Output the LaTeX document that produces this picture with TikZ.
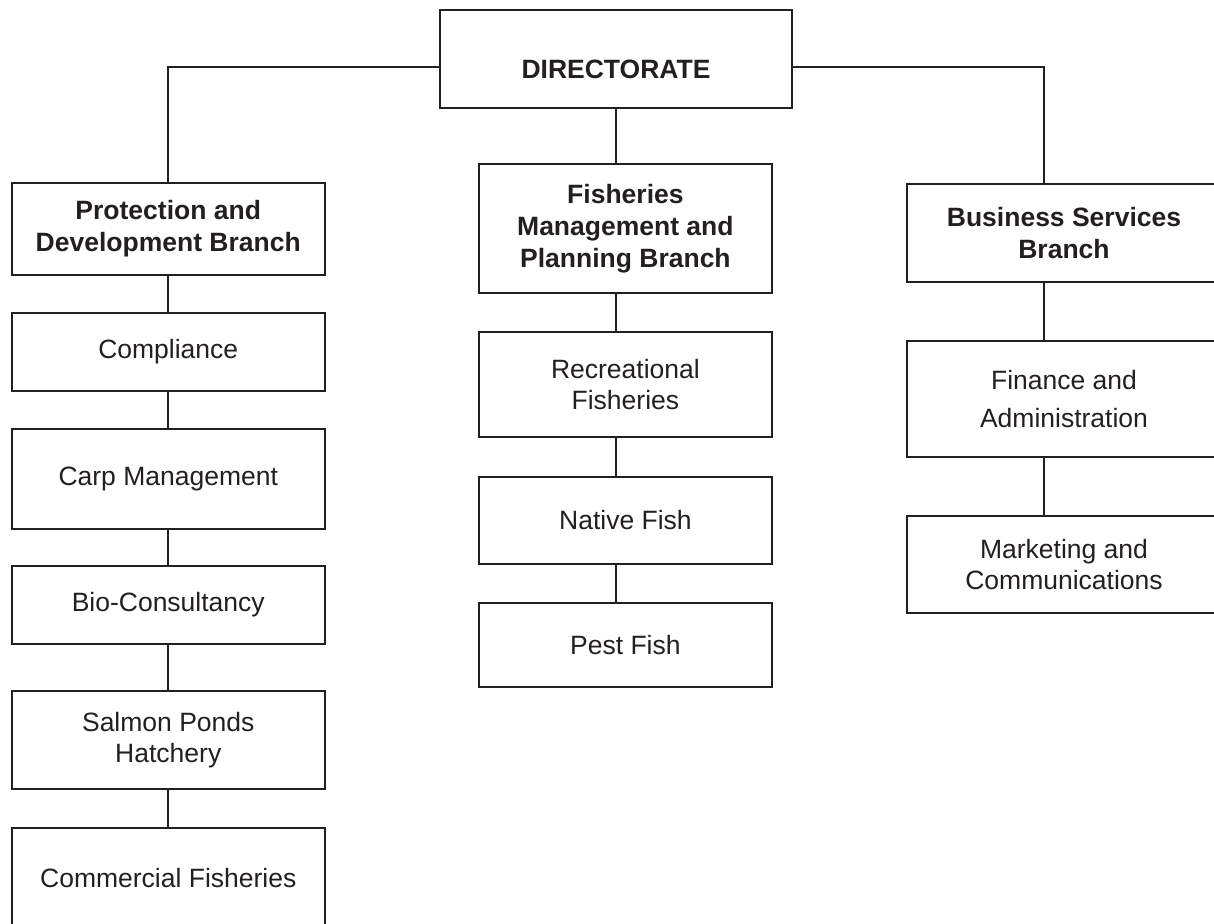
\documentclass[tikz,border=0pt]{standalone}
\usepackage{fontspec}
\setmainfont{Liberation Sans}
\definecolor{ink}{HTML}{231F20}
\begin{document}
\begin{tikzpicture}[x=1pt,y=-1pt,
  box/.style={draw=ink, text=ink, line width=2pt, align=center, inner sep=0pt,
    font=\fontsize{26.5}{31}\selectfont},
  bbox/.style={box, font=\fontsize{26.5}{32}\selectfont\bfseries},
  link/.style={draw=ink, line width=2pt}]
\useasboundingbox (0,0) rectangle (1214,923);
\clip (0,0) rectangle (1214,923);
% top
\node[box, minimum width=352pt, minimum height=98pt] (dir) at (616,59.2) {};
\node[text=ink, inner sep=0pt, font=\fontsize{26.5}{31}\selectfont\bfseries] (dirlabel) at (616,69) {DIRECTORATE};
% left column
\node[bbox, minimum width=312.5pt, minimum height=92pt] (pd) at (168.25,229) {Protection and\\Development Branch};
\node[box, minimum width=312.5pt, minimum height=78pt] (comp) at (168.25,351.6) {Compliance};
\node[box, minimum width=312.5pt, minimum height=99.3pt] (carp) at (168.25,479.1) {Carp Management};
\node[box, minimum width=312.5pt, minimum height=77.5pt] (bio) at (168.25,605) {Bio-Consultancy};
\node[box, minimum width=312.5pt, minimum height=98.5pt] (salmon) at (168.25,740.2) {Salmon Ponds\\Hatchery};
\node[box, minimum width=312.5pt, minimum height=100pt] (comm) at (168.25,878.4) {Commercial Fisheries};
% middle column
\node[bbox, minimum width=292.3pt, minimum height=129pt] (fmp) at (625.4,228.8) {Fisheries\\Management and\\Planning Branch};
\node[box, minimum width=292.3pt, minimum height=105pt] (rec) at (625.4,384.5) {Recreational\\Fisheries};
\node[box, minimum width=292.3pt, minimum height=87pt] (native) at (625.4,520.5) {Native Fish};
\node[box, minimum width=292.3pt, minimum height=84pt] (pest) at (625.4,645) {Pest Fish};
% right column
\node[bbox, minimum width=314pt, minimum height=97.7pt] (bs) at (1064,232.9) {Business Services\\Branch};
\node[box, minimum width=314pt, minimum height=116pt] (fin) at (1064,399) {Finance and\\[7pt]Administration};
\node[box, minimum width=314pt, minimum height=97pt] (mkt) at (1064,564.5) {Marketing and\\Communications};
% junctions
\coordinate (lj) at (168.25,67.5);
\coordinate (rj) at (1044,67.5);
% connectors
\draw[link] (dir.west |- lj) -| (pd.north);
\draw[link] (dir.east |- rj) -| (rj |- bs.north);
\draw[link] (dir.south) -- (dir.south |- fmp.north);
\draw[link] (pd.south) -- (comp.north);
\draw[link] (comp.south) -- (carp.north);
\draw[link] (carp.south) -- (bio.north);
\draw[link] (bio.south) -- (salmon.north);
\draw[link] (salmon.south) -- (comm.north);
\draw[link] (fmp.south -| dir.south) -- (rec.north -| dir.south);
\draw[link] (rec.south -| dir.south) -- (native.north -| dir.south);
\draw[link] (native.south -| dir.south) -- (pest.north -| dir.south);
\draw[link] (bs.south -| rj) -- (fin.north -| rj);
\draw[link] (fin.south -| rj) -- (mkt.north -| rj);
\end{tikzpicture}
\end{document}
